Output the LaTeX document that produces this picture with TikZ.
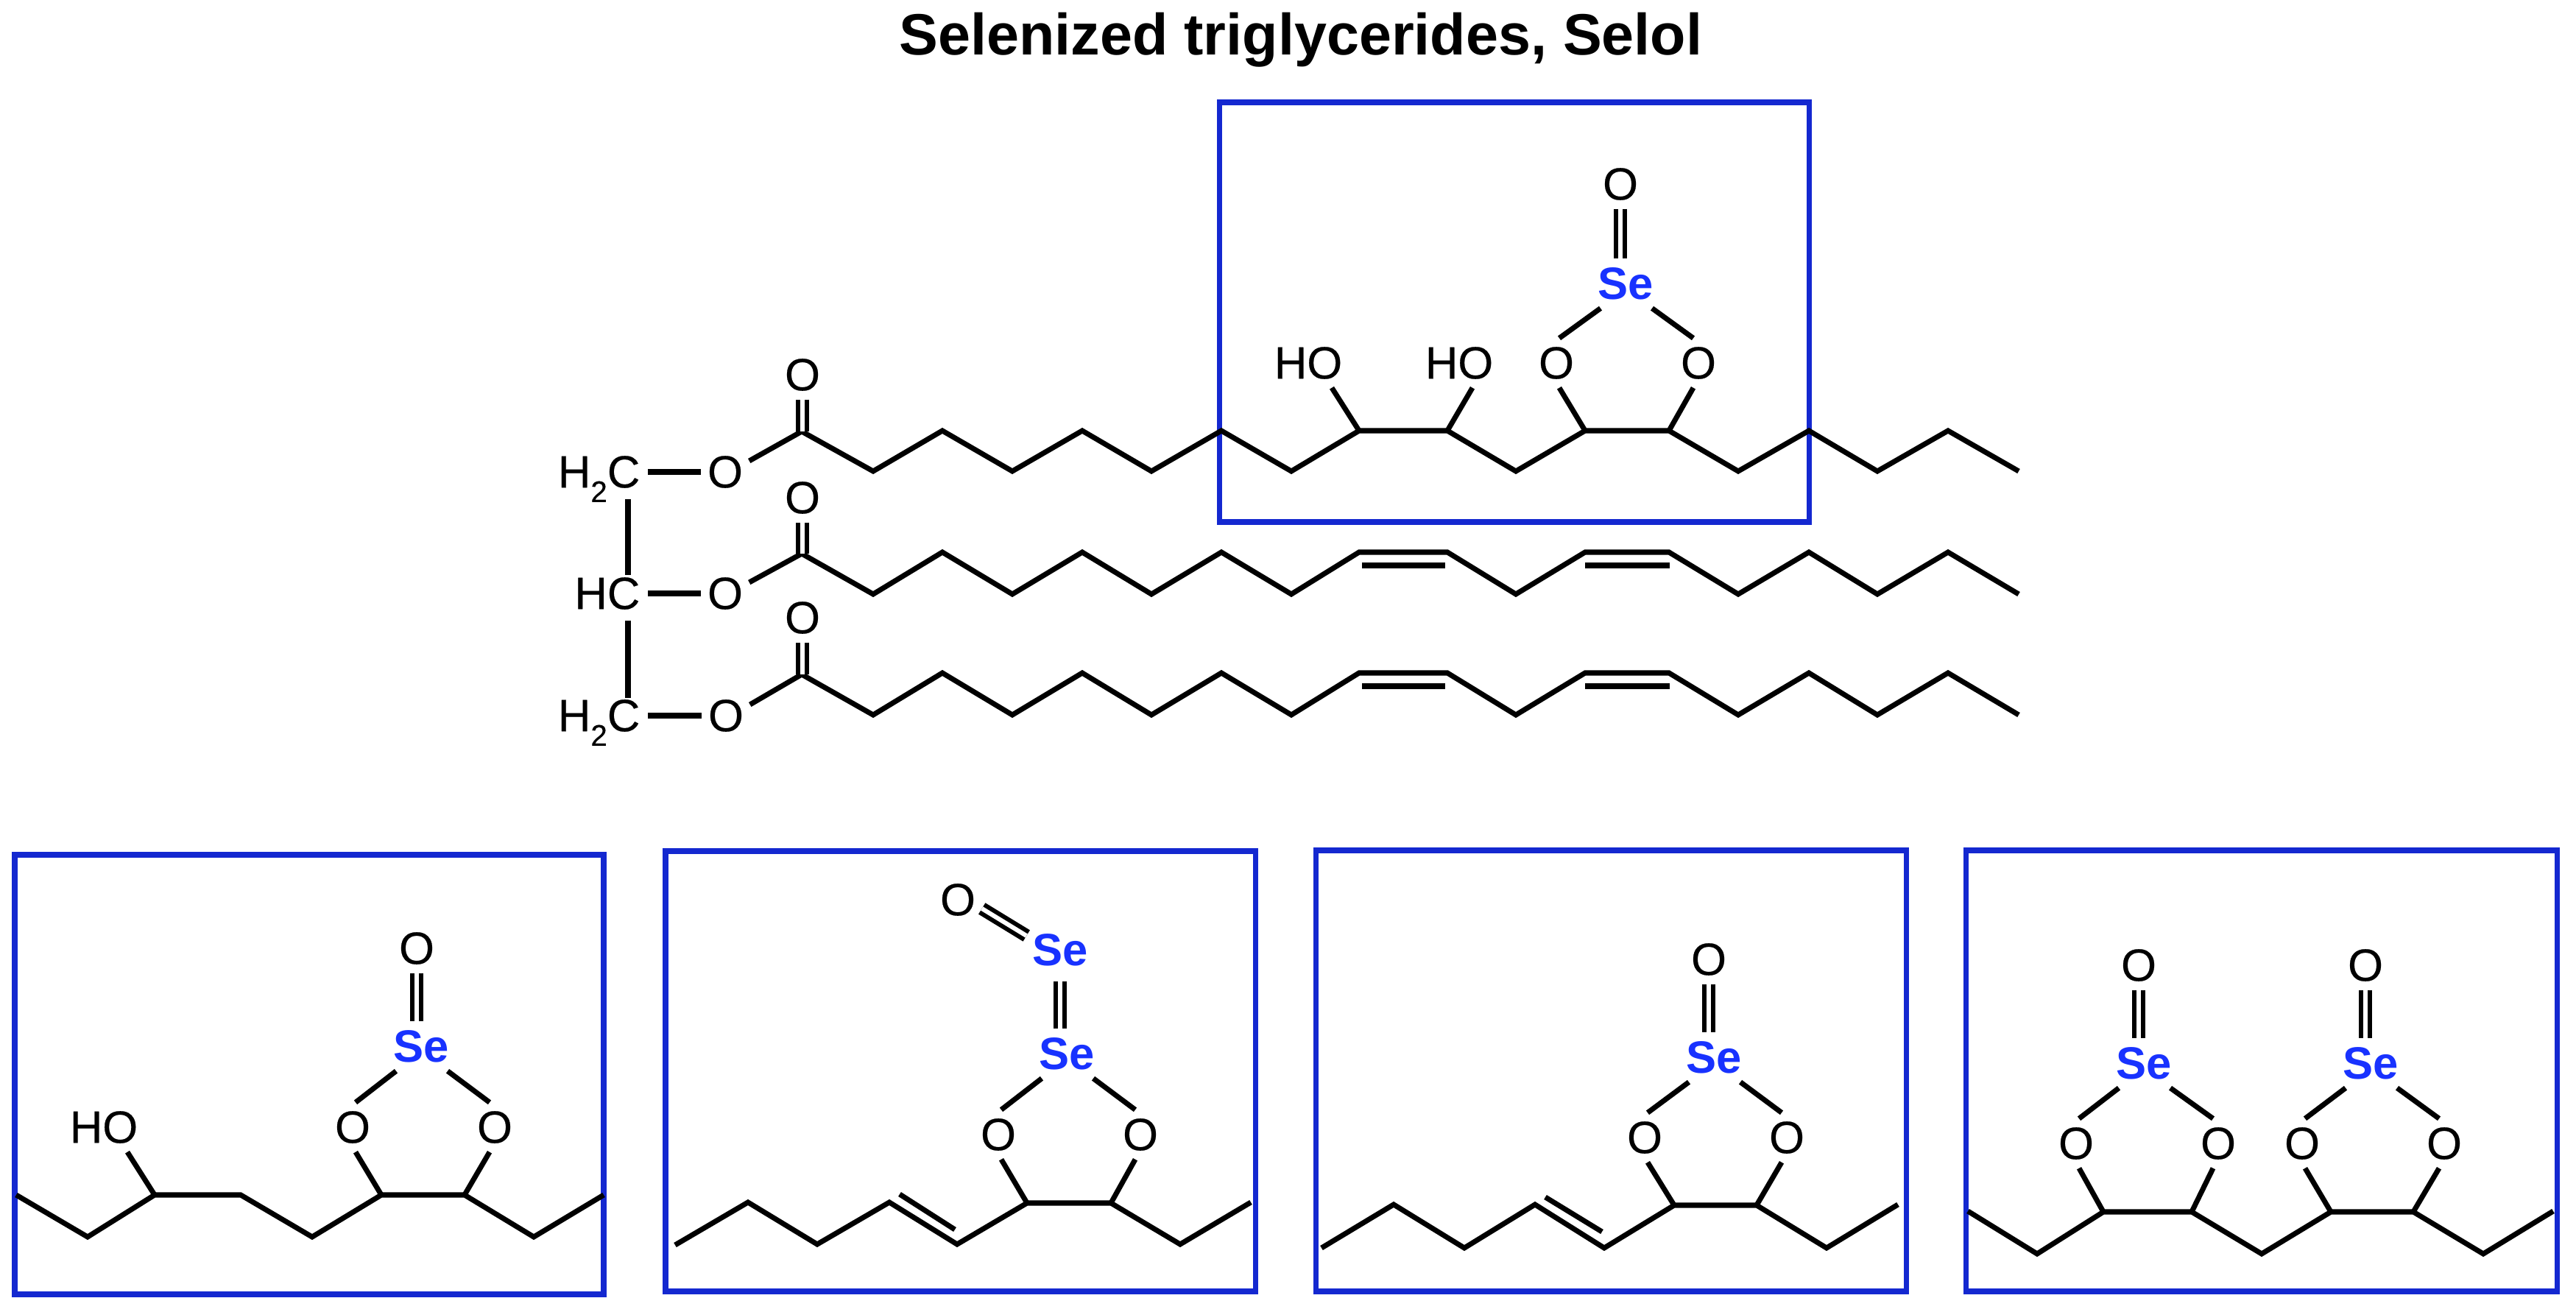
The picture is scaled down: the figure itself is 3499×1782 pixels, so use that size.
\documentclass[tikz,border=0pt]{standalone}
\usepackage{fontspec}
\setmainfont{Liberation Sans}
\newfontfamily\atomfont{Liberation Sans}[FakeBold=0.35]
\definecolor{boxblue}{RGB}{20,40,208}
\definecolor{seblue}{RGB}{24,50,255}
\tikzset{
  bond/.style={line width=2pt,black,line join=miter},
  dbl/.style={line width=1.7pt,black,double=white,double distance=1.7pt},
  panel/.style={line width=2pt,boxblue},
  atom/.style={font=\atomfont\fontsize{17.5}{20}\selectfont,inner sep=0pt,minimum height=.66cm,minimum width=.64cm,text=black},
  seatom/.style={atom,font=\normalfont\fontsize{17.5}{20}\selectfont\bfseries,text=seblue,minimum width=.8cm},
  alkyl/.style={atom,inner xsep=.1cm,anchor=east},
  titlenode/.style={font=\fontsize{22.5}{28}\selectfont\bfseries,inner sep=0pt}
}
% polyline through named coordinates: prefix, list n/x/y
\newcommand{\chainline}[3]{%
  \foreach \n/\cx/\cy in {#2} {\coordinate (#1\n) at (\cx,\cy);}
  \draw[bond] (#10) \foreach \n in {1,...,#3} {-- (#1\n)};
}
% ring: prefix, left O, right O, Se, left C, right C
\newcommand{\seRing}[6]{%
  \node[atom] (#1Ol) at (#2) {O};
  \node[atom] (#1Or) at (#3) {O};
  \node[seatom] (#1Se) at (#4) {Se};
  \draw[bond] ([xshift=-.34cm]#1Se.south) -- ([xshift=.04cm]#1Ol.north);
  \draw[bond] ([xshift=.36cm]#1Se.south) -- ([xshift=-.07cm]#1Or.north);
  \draw[bond] ([xshift=.04cm]#1Ol.south) -- (#5);
  \draw[bond] ([xshift=-.07cm]#1Or.south) -- (#6);
}
\newcommand{\oxo}[2]{%
  \node[atom] (#1Ot) at (#2) {O};
  \draw[dbl] (#1Ot.south) -- (#1Ot.south |- #1Se.north);
}
\begin{document}
\begin{tikzpicture}[x=.01cm,y=-.01cm]
\useasboundingbox (0,0) rectangle (3499,1782);
\node[titlenode] (title) at (1767,54) {Selenized triglycerides, Selol};

% boxes
\draw[panel] (1656,139) rectangle (2457,709);
\draw[panel] (20,1161) rectangle (820,1758);
\draw[panel] (904,1156) rectangle (1705,1754);
\draw[panel] (1787,1155) rectangle (2589,1754);
\draw[panel] (2670,1155) rectangle (3473,1754);

% glycerol backbone
\coordinate (vx) at (853,0);
\node[alkyl] (gA) at (880,641) {H\smash{\raisebox{-.32em}{\fontsize{11.5}{12}\selectfont 2}}C};
\node[alkyl] (gB) at (880,806) {HC};
\node[alkyl] (gC) at (880,972) {H\smash{\raisebox{-.32em}{\fontsize{11.5}{12}\selectfont 2}}C};
\draw[bond,shorten <=.03cm,shorten >=-.09cm] (gA.south -| vx) -- (gB.north -| vx);
\draw[bond,shorten <=.03cm,shorten >=-.1cm] (gB.south -| vx) -- (gC.north -| vx);
\node[atom] (eA) at (985,641) {O};
\node[atom] (eB) at (985,806) {O};
\node[atom] (eC) at (986,972) {O};
\draw[bond] (gA.east) -- (eA.west);
\draw[bond] (gB.east) -- (eB.west);
\draw[bond] (gC.east) -- (eC.west);

% fatty-acid chains
\chainline{a}{0/1089/586,1/1186/640,2/1280/585,3/1375/640,4/1470/585,5/1564/640,6/1659/585,7/1754/640,8/1846/585,9/1966/585,10/2059/640,11/2153/585,12/2267/585,13/2361/640,14/2457/585,15/2550/640,16/2646/585,17/2742/640}{17}
\chainline{b}{0/1089/752,1/1186/807,2/1280/750,3/1375/807,4/1470/750,5/1564/807,6/1659/750,7/1754/807,8/1846/750,9/1966/750,10/2059/807,11/2153/750,12/2267/750,13/2361/807,14/2457/750,15/2550/807,16/2646/750,17/2742/807}{17}
\chainline{c}{0/1089/916,1/1186/971,2/1280/914,3/1375/971,4/1470/914,5/1564/971,6/1659/914,7/1754/971,8/1846/914,9/1966/914,10/2059/971,11/2153/914,12/2267/914,13/2361/971,14/2457/914,15/2550/971,16/2646/914,17/2742/971}{17}
% second lines of the C=C bonds
\draw[bond] ([shift={(4,18)}]b8) -- ([shift={(-3,18)}]b9);
\draw[bond] ([shift={(0,18)}]b11) -- ([shift={(1,18)}]b12);
\draw[bond] ([shift={(4,18)}]c8) -- ([shift={(-3,18)}]c9);
\draw[bond] ([shift={(0,18)}]c11) -- ([shift={(1,18)}]c12);
% esters
\draw[bond] ([yshift=.15cm]eA.east) -- (a0);
\draw[bond] ([yshift=.15cm]eB.east) -- (b0);
\draw[bond] ([yshift=.15cm]eC.east) -- (c0);
\node[atom] (kA) at (1090,509) {O};
\node[atom] (kB) at (1090,676) {O};
\node[atom] (kC) at (1090,839) {O};
\draw[dbl] (kA.south) -- (kA.south |- a0);
\draw[dbl] (kB.south) -- (kB.south |- b0);
\draw[dbl] (kC.south) -- (kC.south |- c0);

% top ring and hydroxyls
\seRing{m}{2114,493}{2307,493}{2208,385}{a11}{a12}
\oxo{m}{2201,250}
\node[atom] (hA) at (1777,493) {HO};
\node[atom] (hB) at (1982,493) {HO};
\draw[bond] ([xshift=.32cm]hA.south) -- (a8);
\draw[bond] ([xshift=.18cm]hB.south) -- (a9);

% panel 1
\chainline{p}{0/22/1623,1/119/1680,2/210/1623,3/327/1623,4/424/1680,5/518/1623,6/631/1623,7/725/1680,8/820/1623}{8}
\seRing{p}{479,1531}{672,1531}{572,1421}{p5}{p6}
\oxo{p}{566,1288}
\node[atom] (hP) at (141,1531) {HO};
\draw[bond] ([xshift=.32cm]hP.south) -- (p2);

% panel 2
\chainline{q}{0/917/1691,1/1016/1633,2/1110/1690,3/1208/1633,4/1300/1690,5/1395/1634,6/1509/1634,7/1603/1690,8/1699/1633}{8}
\draw[bond] ([shift={(14,-11)}]q3) -- ([shift={(-3,-20)}]q4);
\seRing{q}{1356,1541}{1549,1541}{1449,1431}{q5}{q6}
\node[seatom] (qSu) at (1440,1290) {Se};
\node[atom] (qOt) at (1301,1222) {O};
\draw[dbl,shorten <=.09cm] (qSu.south) -- (qSu.south |- qSe.north);
\draw[dbl] ([yshift=-.12cm]qOt.east) -- ([xshift=-.05cm,yshift=.19cm]qSu.west);

% panel 3
\chainline{r}{0/1795/1695,1/1893/1636,2/1989/1695,3/2085/1636,4/2179/1695,5/2274/1637,6/2386/1637,7/2481/1695,8/2578/1636}{8}
\draw[bond] ([shift={(14,-10)}]r3) -- ([shift={(-3,-22)}]r4);
\seRing{r}{2234,1545}{2427,1545}{2328,1436}{r5}{r6}
\oxo{r}{2321,1303}

% panel 4
\chainline{s}{0/2673/1645,1/2767/1703,2/2857/1646,3/2977/1646,4/3072/1703,5/3166/1646,6/3278/1646,7/3373/1703,8/3468/1645}{8}
\seRing{t}{2820,1553}{3013,1553}{2912,1444}{s2}{s3}
\oxo{t}{2905,1311}
\seRing{u}{3127,1553}{3320,1553}{3220,1444}{s5}{s6}
\oxo{u}{3213,1311}
\end{tikzpicture}
\end{document}
